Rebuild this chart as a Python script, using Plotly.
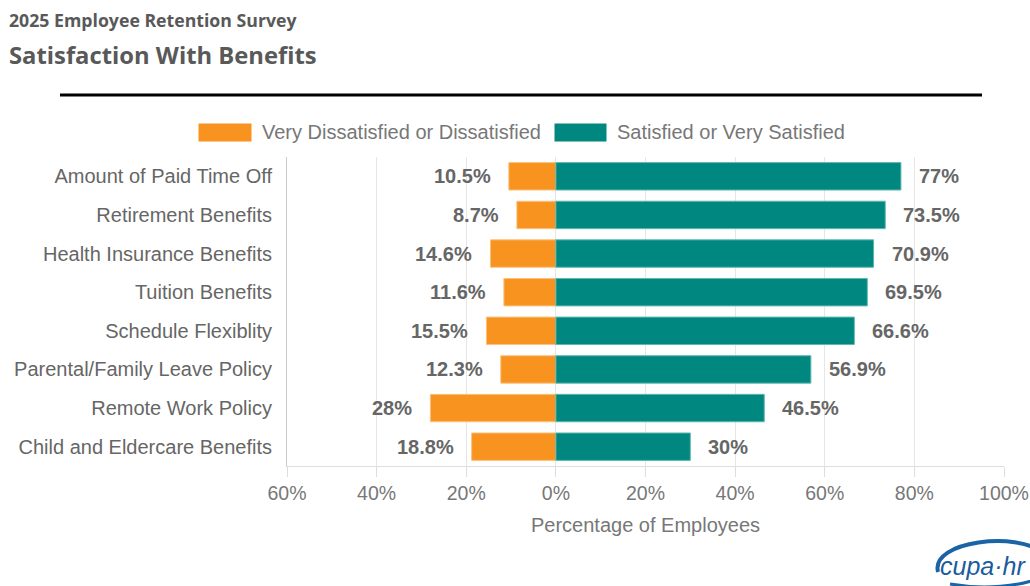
import plotly.graph_objects as go

# Survey results, percent of employees
categories = [
    "Amount of Paid Time Off",
    "Retirement Benefits",
    "Health Insurance Benefits",
    "Tuition Benefits",
    "Schedule Flexiblity",
    "Parental/Family Leave Policy",
    "Remote Work Policy",
    "Child and Eldercare Benefits",
]
dissatisfied = [10.5, 8.7, 14.6, 11.6, 15.5, 12.3, 28, 18.8]
satisfied = [77, 73.5, 70.9, 69.5, 66.6, 56.9, 46.5, 30]

tick_values = [-60, -40, -20, 0, 20, 40, 60, 80, 100]
tick_labels = ["60%", "40%", "20%", "0%", "20%", "40%", "60%", "80%", "100%"]

ORANGE = "#F7931E"
TEAL = "#00877F"
GREY_TEXT = "#666666"
FONT = "Liberation Sans, Arial"

# plot area in pixels
L, R, T, B = 287, 1004, 157, 466
PW, PH = R - L, B - T


def px(x):
    return (x - L) / PW


def py(y):
    return (B - y) / PH


fig = go.Figure()
fig.add_trace(go.Bar(
    y=categories, x=[-v for v in dissatisfied], orientation="h",
    name="Very Dissatisfied or Dissatisfied",
    marker=dict(color=ORANGE, line=dict(color="#FBC27F", width=1)),
    hoverinfo="skip",
))
fig.add_trace(go.Bar(
    y=categories, x=satisfied, orientation="h",
    name="Satisfied or Very Satisfied",
    marker=dict(color=TEAL, line=dict(color="#5FB8B2", width=1)),
    hoverinfo="skip",
))

label_font = dict(family=FONT, size=20, color=GREY_TEXT)
for cat, v in zip(categories, dissatisfied):
    fig.add_annotation(x=-v, y=cat, text=f"<b>{v:g}%</b>", showarrow=False,
                       xanchor="right", xshift=-16, font=label_font)
for cat, v in zip(categories, satisfied):
    fig.add_annotation(x=v, y=cat, text=f"<b>{v:g}%</b>", showarrow=False,
                       xanchor="left", xshift=16, font=label_font)

# Titles
fig.add_annotation(xref="paper", yref="paper", x=px(7), y=py(20),
                   xanchor="left", yanchor="middle", showarrow=False,
                   text="<b>2025 Employee Retention Survey</b>",
                   font=dict(family="Open Sans", size=17.7, color="#595959"))
fig.add_annotation(xref="paper", yref="paper", x=px(7), y=py(55),
                   xanchor="left", yanchor="middle", showarrow=False,
                   text="<b>Satisfaction With Benefits</b>",
                   font=dict(family="Open Sans", size=23.8, color="#595959"))

# Divider line under the title
fig.add_shape(type="line", xref="paper", yref="paper",
              x0=px(60), x1=px(982), y0=py(95), y1=py(95),
              line=dict(color="black", width=3))

# Legend drawn as swatches and captions
legend_items = [
    (198, 252, 260, "Very Dissatisfied or Dissatisfied", ORANGE),
    (554, 607, 615, "Satisfied or Very Satisfied", TEAL),
]
for x0, x1, xt, text, col in legend_items:
    fig.add_shape(type="rect", xref="paper", yref="paper",
                  x0=px(x0), x1=px(x1), y0=py(142), y1=py(123),
                  fillcolor=col, line=dict(color="white", width=1))
    fig.add_annotation(xref="paper", yref="paper", x=px(xt), y=py(132),
                       xanchor="left", yanchor="middle", showarrow=False,
                       text=text, font=dict(family=FONT, size=20, color="#777777"))

# cupa-hr mark in the corner: swoosh arc over the word mark
fig.add_shape(type="path", xref="paper", yref="paper",
              path=(f"M {px(938)},{py(572)} "
                    f"C {px(930)},{py(540)} {px(1020)},{py(532)} {px(1040)},{py(552)}"),
              line=dict(color="#1A64A6", width=4))
fig.add_shape(type="path", xref="paper", yref="paper",
              path=(f"M {px(950)},{py(584)} "
                    f"C {px(985)},{py(590)} {px(1020)},{py(586)} {px(1040)},{py(578)}"),
              line=dict(color="#1A64A6", width=3))
fig.add_annotation(xref="paper", yref="paper", x=px(983), y=py(566),
                   showarrow=False, text="<i>cupa·hr</i>",
                   xanchor="center", yanchor="middle",
                   font=dict(family="Liberation Sans Narrow, Liberation Sans", size=25,
                             color="#1A5C9C"))

fig.update_layout(
    width=1030, height=586,
    margin=dict(l=L, r=1030 - R, t=T, b=586 - B),
    paper_bgcolor="white", plot_bgcolor="white",
    barmode="relative", bargap=0.29,
    showlegend=False,
    xaxis=dict(
        range=[-60, 100], tickvals=tick_values, ticktext=tick_labels,
        automargin=False,
        showgrid=True, gridcolor="#E6E6E6", gridwidth=1,
        zeroline=False, showline=True, linecolor="#DDDDDD", linewidth=1,
        ticks="outside", ticklen=10, tickcolor="#DDDDDD",
        tickfont=dict(family=FONT, size=19.5, color="#777777"),
        title=dict(text="Percentage of Employees", standoff=14,
                   font=dict(family=FONT, size=20, color="#777777")),
    ),
    yaxis=dict(
        autorange="reversed", showgrid=False, zeroline=False, automargin=False,
        showline=True, linecolor="#CCCCCC", linewidth=1,
        ticks="", ticklabelstandoff=10,
        tickfont=dict(family=FONT, size=20, color=GREY_TEXT),
    ),
)

fig.write_html("out.html")
